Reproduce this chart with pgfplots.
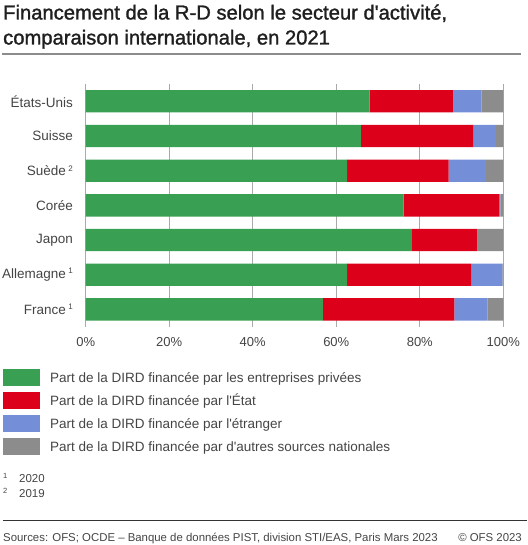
\documentclass[border=0pt]{standalone}
\usepackage{pgfplots}
\usepackage{pgfplotstable}
\pgfplotsset{compat=1.18}
\usepackage{fontspec}
\setmainfont{Liberation Sans}
\newfontfamily\titlefont[FakeBold=1.4]{Liberation Sans}

\definecolor{ofsgreen}{RGB}{57,159,82}
\definecolor{ofsred}{RGB}{220,0,26}
\definecolor{ofsblue}{RGB}{116,143,216}
\definecolor{ofsgray}{RGB}{140,140,140}
\definecolor{gridgray}{RGB}{170,170,170}
\definecolor{txt}{RGB}{68,68,68}

% parts de la DIRD (%), ordre de haut en bas
\pgfplotstableread{
idx priv etat etr autres
0 68.0 19.9 6.9 5.2
1 65.9 26.9 5.4 1.8
2 62.6 24.3 8.9 4.2
3 76.1 22.9 0.3 0.7
4 78.1 15.6 0.2 6.1
5 62.6 29.7 7.5 0.2
6 56.8 31.5 7.9 3.8
}\data

\newcommand{\fnote}[1]{\hspace{2.5pt}\raisebox{4.5pt}{\fontsize{8}{8}\selectfont #1}}
\newcommand{\q}{\textquotesingle}

\begin{document}
\begin{tikzpicture}
\path[use as bounding box] (0pt,0pt) rectangle (527pt,-545pt);

% titre
\node[anchor=base west, inner sep=0pt, text=black!88] at (3pt,-19.5pt)
  {\titlefont\fontsize{20.2}{22}\selectfont Financement de la R-D selon le secteur d\q activité,};
\node[anchor=base west, inner sep=0pt, text=black!88] at (3pt,-44.5pt)
  {\titlefont\fontsize{20.2}{22}\selectfont comparaison internationale, en 2021};
\draw[line width=1.2pt, gray!90] (2pt,-54pt) -- (521pt,-54pt);

\begin{axis}[
  at={(85.7pt,-326.7pt)}, anchor=south west,
  scale only axis,
  width=417.6pt, height=242.7pt,
  xbar stacked,
  bar width=22.3pt,
  xmin=0, xmax=100,
  ymin=-0.5, ymax=6.5,
  y dir=reverse,
  enlargelimits=false,
  axis line style={draw=none},
  major tick length=0pt,
  xmajorgrids,
  grid style={gridgray, line width=0.9pt},
  xtick={0,20,40,60,80,100},
  xticklabels={0\%,20\%,40\%,60\%,80\%,100\%},
  ytick={0,1,2,3,4,5,6},
  yticklabels={États-Unis, Suisse, Suède\fnote{2}, Corée, Japon, Allemagne\fnote{1}, France\fnote{1}},
  xticklabel style={inner sep=0pt, yshift=-10.6pt, text=txt, font=\fontsize{13}{13}\selectfont},
  yticklabel style={inner sep=0pt, xshift=-12.7pt, text=txt, font=\fontsize{13.5}{13.5}\selectfont},
  legend style={at={(axis description cs:-0.198,-0.1755)}, anchor=north west,
    draw=none, fill=none, inner sep=0pt, outer sep=0pt,
    row sep=6.6pt,
    font=\fontsize{13.5}{13.5}\selectfont, text=txt,
    nodes={inner sep=0pt, text height=9.8pt, text depth=0pt},
    /tikz/every odd column/.append style={column sep=10pt}},
  legend cell align=left,
  legend image code/.code={\fill[#1] (0pt,-8.2pt) rectangle (37pt,8.2pt);},
]
\addplot[fill=ofsgreen, draw=none] table[x=priv, y=idx]{\data};
\addplot[fill=ofsred, draw=none] table[x=etat, y=idx]{\data};
\addplot[fill=ofsblue, draw=none] table[x=etr, y=idx]{\data};
\addplot[fill=ofsgray, draw=none] table[x=autres, y=idx]{\data};
\legend{Part de la DIRD financée par les entreprises privées,
  Part de la DIRD financée par l\q État,
  Part de la DIRD financée par l\q étranger,
  Part de la DIRD financée par d\q autres sources nationales}
\end{axis}

% notes
\node[anchor=base west, inner sep=0pt, text=txt] at (3pt,-478pt) {\fontsize{7.5}{8}\selectfont 1};
\node[anchor=base west, inner sep=0pt, text=txt] at (19pt,-482.3pt) {\fontsize{11.5}{12}\selectfont 2020};
\node[anchor=base west, inner sep=0pt, text=txt] at (3pt,-493.5pt) {\fontsize{7.5}{8}\selectfont 2};
\node[anchor=base west, inner sep=0pt, text=txt] at (19pt,-497.7pt) {\fontsize{11.5}{12}\selectfont 2019};

\draw[line width=0.9pt, black!80] (3pt,-520.7pt) -- (527pt,-520.7pt);
\node[anchor=base west, inner sep=0pt, text=txt] at (3pt,-541.7pt)
  {\fontsize{11.4}{12}\selectfont Sources: OFS; OCDE – Banque de données PIST, division STI/EAS, Paris Mars 2023};
\node[anchor=base east, inner sep=0pt, text=txt] at (522pt,-541.7pt)
  {\fontsize{11.4}{12}\selectfont © OFS 2023};
\end{tikzpicture}
\end{document}
